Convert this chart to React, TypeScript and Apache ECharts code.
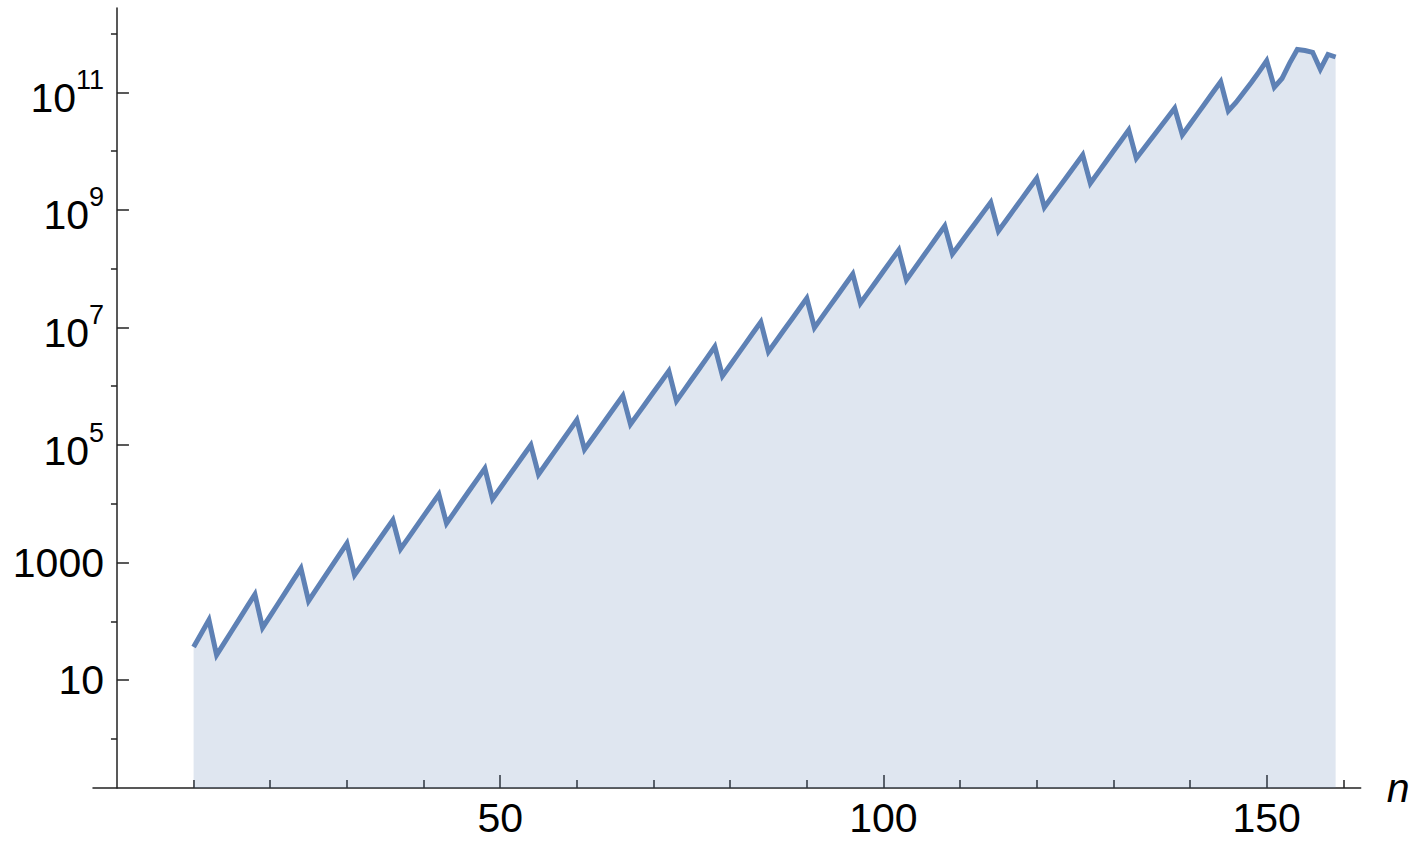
import React, { useEffect, useRef } from "react";
import * as echarts from "echarts";

// n runs from 10 to 159; values are log10 of the plotted count
const nStart = 10;
const log10CountsA = [
  1.562, 1.79, 2.021,
  1.426, 1.633, 1.839, 2.046, 2.253, 2.459,
  1.89, 2.092, 2.294, 2.497, 2.699, 2.901,
  2.345, 2.541, 2.738, 2.934, 3.131, 3.327,
  2.787, 2.974, 3.161, 3.349, 3.536, 3.723,
  3.23, 3.416, 3.602, 3.789, 3.975, 4.161,
  3.667, 3.854, 4.042, 4.229, 4.416, 4.603,
  4.081, 4.265, 4.449, 4.632, 4.816, 5.0,
  4.501, 4.686, 4.871, 5.056, 5.241,
];
const log10CountsB = [
  5.426,
  4.923, 5.106, 5.289, 5.473, 5.656, 5.839,
  5.352, 5.534, 5.715, 5.897, 6.078, 6.26,
  5.749, 5.934, 6.119, 6.303, 6.488, 6.673,
  6.174, 6.358, 6.542, 6.726, 6.91, 7.094,
  6.588, 6.77, 6.952, 7.133, 7.315, 7.497,
  6.997, 7.18, 7.363, 7.545, 7.728, 7.911,
  7.412, 7.593, 7.775, 7.956, 8.138, 8.319,
  7.809, 7.993, 8.177, 8.36, 8.544, 8.728,
  8.251,
];
const log10CountsC = [
  8.427, 8.603, 8.779, 8.955, 9.131,
  8.643, 8.822, 9.002, 9.181, 9.361, 9.54,
  9.046, 9.224, 9.402, 9.58, 9.758, 9.936,
  9.454, 9.636, 9.817, 9.999, 10.18, 10.362,
  9.88, 10.05, 10.22, 10.391, 10.561, 10.731,
  10.277, 10.458, 10.64, 10.821, 11.003, 11.184,
  10.685, 10.83, 11.0, 11.17, 11.35, 11.54,
  11.089, 11.238, 11.5, 11.732, 11.715, 11.684,
  11.395, 11.647, 11.604,
];

const xMajorTicks = [50, 100, 150];
const xMinorTicks = [10, 20, 30, 40, 60, 70, 80, 90, 110, 120, 130, 140, 160];
const yMajorTicks = [1, 3, 5, 7, 9, 11]; // decades (log10)
const yMinorTicks = [0, 2, 4, 6, 8, 10, 12];
const yPlainLabels: Record<number, string> = { 1: "10", 3: "1000" };

const FONT = "'Liberation Sans', Arial, Helvetica, sans-serif";
const AXIS = "#222";
const LINE = "#5E81B5";
const FS = 41;

export default function App() {
  const ref = useRef<HTMLDivElement>(null);
  useEffect(() => {
    if (!ref.current) return;
    const chart = echarts.init(ref.current, undefined, { renderer: "svg" });
    const all = [...log10CountsA, ...log10CountsB, ...log10CountsC];
    const data = all.map((v, i) => [nStart + i, v]);
    const xMin = -3.125, xMax = 162.27, yMin = -0.838, yMax = 12.438;
    const tickStyle = { color: AXIS, width: 1.5 };
    chart.setOption({
      animation: false,
      grid: { left: 93, right: 55.3, top: 8, bottom: 55, containLabel: false, outerBoundsMode: "none" },
      xAxis: [
        {
          type: "value", min: xMin, max: xMax,
          axisLine: { show: true, onZero: false, lineStyle: { color: AXIS, width: 1.5 } },
          axisTick: { show: true, inside: true, length: 13, customValues: xMajorTicks, lineStyle: tickStyle },
          axisLabel: {
            show: true, customValues: xMajorTicks, margin: 9,
            fontSize: FS, lineHeight: FS, fontFamily: FONT, color: "#000",
          },
          splitLine: { show: false },
          name: "n", nameLocation: "end", nameGap: 26,
          nameTextStyle: { fontSize: FS, fontStyle: "italic", fontFamily: FONT, color: "#000" },
        },
        {
          type: "value", min: xMin, max: xMax, position: "bottom",
          axisLine: { show: false, onZero: false },
          axisTick: { show: true, inside: true, length: 8, customValues: xMinorTicks, lineStyle: tickStyle },
          axisLabel: { show: false },
          splitLine: { show: false },
        },
      ],
      yAxis: [
        {
          type: "value", min: yMin, max: yMax,
          axisLine: { show: true, onZero: true, onZeroAxisIndex: 0, lineStyle: { color: AXIS, width: 1.5 } },
          axisTick: { show: true, inside: true, length: 12, customValues: yMajorTicks, lineStyle: tickStyle },
          axisLabel: {
            show: true, customValues: yMajorTicks, margin: -11, color: "#000", fontFamily: FONT,
            formatter: (v: number) => {
              const k = Math.round(v);
              if (yPlainLabels[k]) return `{p|${yPlainLabels[k]}}`;
              return `{b|10}{s|${k}}`;
            },
            rich: {
              p: { fontSize: FS, lineHeight: FS, fontFamily: FONT, color: "#000" },
              b: { fontSize: FS, lineHeight: 52, verticalAlign: "bottom", fontFamily: FONT, color: "#000" },
              s: { fontSize: 27, lineHeight: 10, verticalAlign: "top", fontFamily: FONT, color: "#000" },
            },
          },
          splitLine: { show: false },
        },
        {
          type: "value", min: yMin, max: yMax,
          axisLine: { show: false, onZero: true, onZeroAxisIndex: 0 },
          axisTick: { show: true, inside: true, length: 6, customValues: yMinorTicks, lineStyle: tickStyle },
          axisLabel: { show: false },
          splitLine: { show: false },
        },
      ],
      series: [
        {
          type: "line", xAxisIndex: 0, yAxisIndex: 0, data,
          symbol: "none", showSymbol: false,
          lineStyle: { color: LINE, width: 5, join: "miter", cap: "butt" },
          areaStyle: { color: LINE, opacity: 0.2, origin: "start" },
        },
      ],
    });
    return () => chart.dispose();
  }, []);
  return (
    <div
      ref={ref}
      style={{ position: "fixed", left: 0, top: 0, width: 1416, height: 843, background: "#fff" }}
    />
  );
}
